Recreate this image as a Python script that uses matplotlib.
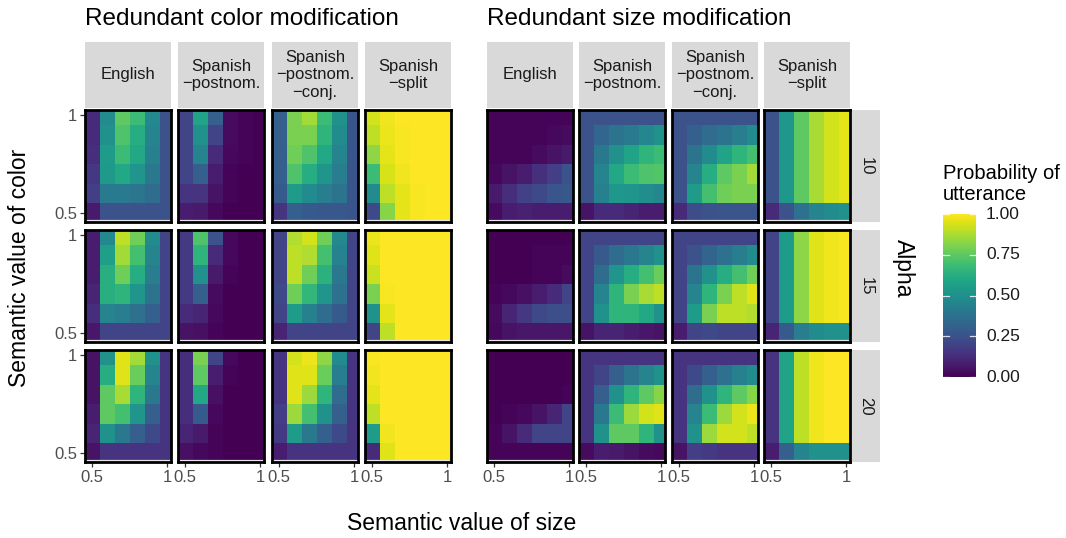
import numpy as np
import matplotlib
matplotlib.use('Agg')
import matplotlib.pyplot as plt

plt.rcParams['font.family'] = ['Liberation Sans', 'DejaVu Sans']

# semantic values on both axes
sem_values = [0.5, 0.6, 0.7, 0.8, 0.9, 1.0]
languages = ['English', 'Spanish\n\u2212postnom.', 'Spanish\n\u2212postnom.\n\u2212conj.', 'Spanish\n\u2212split']
alphas = ['10', '15', '20']

# rows: color value 1.0 (top) down to 0.5 (bottom); columns: size value 0.5 -> 1.0
# ---- redundant color modification ----
color_en_10 = [[0.12, 0.48, 0.75, 0.68, 0.47, 0.25],
               [0.12, 0.50, 0.72, 0.62, 0.45, 0.25],
               [0.13, 0.55, 0.68, 0.60, 0.43, 0.25],
               [0.16, 0.54, 0.60, 0.52, 0.40, 0.25],
               [0.18, 0.41, 0.41, 0.39, 0.35, 0.25],
               [0.07, 0.25, 0.25, 0.25, 0.25, 0.25]]
color_post_10 = [[0.20, 0.58, 0.30, 0.03, 0.01, 0.00],
                 [0.20, 0.50, 0.20, 0.03, 0.01, 0.00],
                 [0.20, 0.45, 0.12, 0.02, 0.01, 0.00],
                 [0.20, 0.30, 0.08, 0.01, 0.00, 0.00],
                 [0.15, 0.15, 0.05, 0.01, 0.00, 0.00],
                 [0.08, 0.07, 0.02, 0.00, 0.00, 0.00]]
color_conj_10 = [[0.30, 0.80, 0.86, 0.68, 0.50, 0.26],
                 [0.30, 0.80, 0.80, 0.65, 0.48, 0.26],
                 [0.30, 0.78, 0.72, 0.60, 0.45, 0.26],
                 [0.30, 0.72, 0.62, 0.52, 0.42, 0.26],
                 [0.28, 0.55, 0.48, 0.42, 0.38, 0.26],
                 [0.15, 0.30, 0.28, 0.27, 0.27, 0.26]]
color_split_10 = [[0.93, 0.98, 1.00, 1.00, 1.00, 1.00],
                  [0.90, 0.97, 0.99, 1.00, 1.00, 1.00],
                  [0.83, 0.96, 0.99, 1.00, 1.00, 1.00],
                  [0.68, 0.94, 0.98, 1.00, 1.00, 1.00],
                  [0.48, 0.90, 0.96, 0.99, 1.00, 1.00],
                  [0.22, 0.82, 0.96, 0.99, 1.00, 1.00]]
color_en_15 = [[0.08, 0.47, 0.90, 0.78, 0.48, 0.20],
               [0.08, 0.56, 0.86, 0.70, 0.45, 0.20],
               [0.08, 0.63, 0.78, 0.62, 0.42, 0.20],
               [0.10, 0.63, 0.65, 0.52, 0.38, 0.20],
               [0.13, 0.45, 0.42, 0.37, 0.30, 0.20],
               [0.06, 0.20, 0.20, 0.20, 0.20, 0.20]]
color_post_15 = [[0.17, 0.72, 0.25, 0.02, 0.00, 0.00],
                 [0.17, 0.65, 0.12, 0.02, 0.00, 0.00],
                 [0.17, 0.50, 0.07, 0.01, 0.00, 0.00],
                 [0.17, 0.30, 0.03, 0.00, 0.00, 0.00],
                 [0.12, 0.10, 0.02, 0.00, 0.00, 0.00],
                 [0.05, 0.04, 0.01, 0.00, 0.00, 0.00]]
color_conj_15 = [[0.20, 0.88, 0.93, 0.78, 0.47, 0.20],
                 [0.20, 0.90, 0.88, 0.70, 0.44, 0.20],
                 [0.20, 0.90, 0.78, 0.64, 0.40, 0.20],
                 [0.22, 0.78, 0.66, 0.52, 0.37, 0.20],
                 [0.20, 0.55, 0.43, 0.35, 0.28, 0.20],
                 [0.10, 0.20, 0.20, 0.20, 0.20, 0.20]]
color_split_15 = [[0.97, 1.00, 1.00, 1.00, 1.00, 1.00],
                  [0.95, 1.00, 1.00, 1.00, 1.00, 1.00],
                  [0.92, 1.00, 1.00, 1.00, 1.00, 1.00],
                  [0.80, 0.99, 1.00, 1.00, 1.00, 1.00],
                  [0.50, 0.96, 1.00, 1.00, 1.00, 1.00],
                  [0.20, 0.90, 1.00, 1.00, 1.00, 1.00]]
color_en_20 = [[0.05, 0.50, 0.95, 0.86, 0.50, 0.15],
               [0.05, 0.62, 0.95, 0.77, 0.45, 0.15],
               [0.05, 0.75, 0.87, 0.65, 0.40, 0.15],
               [0.08, 0.75, 0.70, 0.52, 0.30, 0.15],
               [0.10, 0.50, 0.40, 0.30, 0.22, 0.15],
               [0.05, 0.15, 0.15, 0.15, 0.15, 0.15]]
color_post_20 = [[0.13, 0.80, 0.20, 0.02, 0.00, 0.00],
                 [0.13, 0.75, 0.08, 0.01, 0.00, 0.00],
                 [0.13, 0.60, 0.04, 0.00, 0.00, 0.00],
                 [0.13, 0.28, 0.02, 0.00, 0.00, 0.00],
                 [0.10, 0.07, 0.01, 0.00, 0.00, 0.00],
                 [0.04, 0.02, 0.01, 0.00, 0.00, 0.00]]
color_conj_20 = [[0.15, 0.93, 0.97, 0.83, 0.48, 0.15],
                 [0.15, 0.95, 0.95, 0.77, 0.42, 0.15],
                 [0.15, 0.95, 0.85, 0.65, 0.35, 0.15],
                 [0.18, 0.85, 0.70, 0.50, 0.30, 0.15],
                 [0.17, 0.55, 0.40, 0.30, 0.22, 0.15],
                 [0.08, 0.15, 0.15, 0.15, 0.15, 0.15]]
color_split_20 = [[0.99, 1.00, 1.00, 1.00, 1.00, 1.00],
                  [0.98, 1.00, 1.00, 1.00, 1.00, 1.00],
                  [0.96, 1.00, 1.00, 1.00, 1.00, 1.00],
                  [0.90, 1.00, 1.00, 1.00, 1.00, 1.00],
                  [0.55, 0.98, 1.00, 1.00, 1.00, 1.00],
                  [0.12, 0.95, 1.00, 1.00, 1.00, 1.00]]

# ---- redundant size modification ----
size_en_10 = [[0.01, 0.01, 0.01, 0.01, 0.01, 0.01],
              [0.01, 0.01, 0.01, 0.01, 0.02, 0.03],
              [0.01, 0.01, 0.01, 0.03, 0.05, 0.07],
              [0.02, 0.05, 0.08, 0.14, 0.18, 0.25],
              [0.07, 0.13, 0.19, 0.22, 0.26, 0.27],
              [0.03, 0.08, 0.09, 0.08, 0.08, 0.08]]
size_post_10 = [[0.25, 0.25, 0.25, 0.25, 0.25, 0.25],
                [0.25, 0.33, 0.38, 0.41, 0.46, 0.51],
                [0.25, 0.40, 0.50, 0.58, 0.65, 0.68],
                [0.25, 0.45, 0.60, 0.68, 0.72, 0.73],
                [0.25, 0.43, 0.53, 0.52, 0.49, 0.46],
                [0.05, 0.12, 0.12, 0.10, 0.08, 0.08]]
size_conj_10 = [[0.25, 0.25, 0.25, 0.25, 0.25, 0.25],
                [0.25, 0.30, 0.35, 0.38, 0.42, 0.48],
                [0.25, 0.38, 0.48, 0.58, 0.65, 0.70],
                [0.25, 0.45, 0.62, 0.75, 0.80, 0.86],
                [0.25, 0.55, 0.70, 0.78, 0.80, 0.80],
                [0.12, 0.23, 0.25, 0.26, 0.26, 0.26]]
size_split_10 = [[0.25, 0.53, 0.75, 0.87, 0.93, 0.96],
                 [0.25, 0.53, 0.75, 0.87, 0.93, 0.96],
                 [0.25, 0.53, 0.75, 0.87, 0.93, 0.96],
                 [0.25, 0.53, 0.75, 0.87, 0.93, 0.96],
                 [0.25, 0.53, 0.75, 0.87, 0.93, 0.96],
                 [0.12, 0.25, 0.37, 0.45, 0.48, 0.50]]
size_en_15 = [[0.00, 0.00, 0.00, 0.00, 0.00, 0.00],
              [0.00, 0.00, 0.00, 0.01, 0.01, 0.01],
              [0.00, 0.00, 0.00, 0.01, 0.01, 0.03],
              [0.01, 0.02, 0.04, 0.08, 0.12, 0.20],
              [0.03, 0.10, 0.16, 0.22, 0.24, 0.24],
              [0.02, 0.05, 0.06, 0.06, 0.06, 0.06]]
size_post_15 = [[0.20, 0.20, 0.20, 0.20, 0.20, 0.20],
                [0.20, 0.28, 0.35, 0.40, 0.45, 0.50],
                [0.20, 0.35, 0.52, 0.62, 0.70, 0.77],
                [0.20, 0.45, 0.65, 0.80, 0.87, 0.90],
                [0.20, 0.50, 0.65, 0.65, 0.60, 0.50],
                [0.05, 0.10, 0.10, 0.08, 0.06, 0.05]]
size_conj_15 = [[0.20, 0.20, 0.20, 0.20, 0.20, 0.20],
                [0.20, 0.25, 0.32, 0.37, 0.42, 0.48],
                [0.20, 0.38, 0.50, 0.62, 0.70, 0.78],
                [0.20, 0.45, 0.65, 0.80, 0.90, 0.95],
                [0.20, 0.55, 0.80, 0.90, 0.90, 0.88],
                [0.08, 0.20, 0.22, 0.20, 0.20, 0.20]]
size_split_15 = [[0.20, 0.55, 0.83, 0.95, 0.98, 0.99],
                 [0.20, 0.55, 0.83, 0.95, 0.98, 0.99],
                 [0.20, 0.55, 0.83, 0.95, 0.98, 0.99],
                 [0.20, 0.55, 0.83, 0.95, 0.98, 0.99],
                 [0.20, 0.55, 0.83, 0.95, 0.98, 0.99],
                 [0.10, 0.28, 0.42, 0.48, 0.50, 0.50]]
size_en_20 = [[0.00, 0.00, 0.00, 0.00, 0.00, 0.00],
              [0.00, 0.00, 0.00, 0.00, 0.00, 0.00],
              [0.00, 0.00, 0.00, 0.00, 0.00, 0.01],
              [0.00, 0.01, 0.02, 0.05, 0.10, 0.20],
              [0.01, 0.05, 0.12, 0.20, 0.20, 0.20],
              [0.01, 0.01, 0.01, 0.01, 0.01, 0.01]]
size_post_20 = [[0.15, 0.15, 0.15, 0.15, 0.15, 0.15],
                [0.15, 0.20, 0.30, 0.38, 0.45, 0.50],
                [0.15, 0.30, 0.50, 0.65, 0.75, 0.82],
                [0.15, 0.40, 0.68, 0.85, 0.93, 0.95],
                [0.15, 0.50, 0.75, 0.75, 0.65, 0.50],
                [0.03, 0.08, 0.07, 0.05, 0.03, 0.02]]
size_conj_20 = [[0.15, 0.15, 0.15, 0.15, 0.15, 0.15],
                [0.15, 0.22, 0.30, 0.37, 0.43, 0.48],
                [0.15, 0.35, 0.50, 0.65, 0.75, 0.82],
                [0.15, 0.45, 0.68, 0.85, 0.93, 0.97],
                [0.15, 0.50, 0.85, 0.93, 0.93, 0.90],
                [0.05, 0.18, 0.17, 0.15, 0.15, 0.15]]
size_split_20 = [[0.15, 0.58, 0.90, 0.98, 1.00, 1.00],
                 [0.15, 0.58, 0.90, 0.98, 1.00, 1.00],
                 [0.15, 0.58, 0.90, 0.98, 1.00, 1.00],
                 [0.15, 0.58, 0.90, 0.98, 1.00, 1.00],
                 [0.15, 0.58, 0.90, 0.98, 1.00, 1.00],
                 [0.08, 0.30, 0.45, 0.50, 0.50, 0.50]]

color_panels = [[color_en_10, color_post_10, color_conj_10, color_split_10],
                [color_en_15, color_post_15, color_conj_15, color_split_15],
                [color_en_20, color_post_20, color_conj_20, color_split_20]]
size_panels = [[size_en_10, size_post_10, size_conj_10, size_split_10],
               [size_en_15, size_post_15, size_conj_15, size_split_15],
               [size_en_20, size_post_20, size_conj_20, size_split_20]]

W, H = 1066, 538
fig = plt.figure(figsize=(W / 100, H / 100), dpi=100)


def px_axes(x, y, w, h):
    # pixel box (top-left origin) -> figure axes
    return fig.add_axes([x / W, 1 - (y + h) / H, w / W, h / H])


edges = np.array(sem_values + [1.1]) - 0.05
cmap = plt.get_cmap('viridis')
strip_grey = '#d9d9d9'
tick_grey = '#4d4d4d'

col_lefts = [[85, 178, 272, 365], [487, 579, 672, 764]]
row_tops = [110, 230, 350]
pw, ph = 86, 112

for g, panels in enumerate([color_panels, size_panels]):
    for r in range(3):
        for c in range(4):
            ax = px_axes(col_lefts[g][c], row_tops[r], pw, ph)
            z = np.array(panels[r][c])[::-1]
            ax.pcolormesh(edges, edges, z, cmap=cmap, vmin=0, vmax=1)
            ax.axhline(0.459, color='#e6e6e6', lw=1.6, zorder=3)
            ax.set_xlim(0.453, 1.026)
            ax.set_ylim(0.455, 1.026)
            for s in ax.spines.values():
                s.set_linewidth(2.0)
                s.set_color('black')
                s.set_zorder(5)
            ax.set_xticks([0.5, 1])
            ax.set_xticklabels(['0.5', '1'])
            ax.set_yticks([0.5, 1])
            ax.set_yticklabels(['0.5', '1'])
            ax.tick_params(length=3.5, width=0.9, color='#333333', labelcolor=tick_grey,
                           labelsize=12, pad=2)
            if r != 2:
                ax.tick_params(axis='x', length=0, labelbottom=False)
            if not (g == 0 and c == 0):
                ax.tick_params(axis='y', length=0, labelleft=False)

    # language strips on top
    for c in range(4):
        sax = px_axes(col_lefts[g][c], 42, pw, 66)
        sax.set_facecolor(strip_grey)
        sax.set_xticks([])
        sax.set_yticks([])
        for s in sax.spines.values():
            s.set_visible(False)
        sax.text(0.5, 0.5, languages[c], ha='center', va='center', fontsize=12,
                 color='#1a1a1a', linespacing=1.2, transform=sax.transAxes)

# alpha strips on the right
for r in range(3):
    sax = px_axes(852, row_tops[r], 28, ph)
    sax.set_facecolor(strip_grey)
    sax.set_xticks([])
    sax.set_yticks([])
    for s in sax.spines.values():
        s.set_visible(False)
    sax.text(0.5, 0.5, alphas[r], ha='center', va='center', rotation=-90, fontsize=12,
             color='#1a1a1a', transform=sax.transAxes)

fig.text(85 / W, 1 - 19 / H, 'Redundant color modification', ha='left', va='center', fontsize=17.5)
fig.text(487 / W, 1 - 19 / H, 'Redundant size modification', ha='left', va='center', fontsize=17.5)
fig.text(20 / W, 1 - 268 / H, 'Semantic value of color', ha='center', va='center', rotation=90,
         fontsize=16.5)
fig.text(462 / W, 1 - 523 / H, 'Semantic value of size', ha='center', va='center', fontsize=16.5)
fig.text(903 / W, 1 - 268 / H, 'Alpha', ha='center', va='center', rotation=-90, fontsize=16.5)

# colour bar
cax = px_axes(943, 214, 33, 163)
grad = np.linspace(0, 1, 256).reshape(-1, 1)
cax.imshow(grad, cmap=cmap, aspect='auto', origin='lower', extent=[0, 1, 0, 1])
cax.set_xlim(0, 1)
cax.set_ylim(0, 1)
for s in cax.spines.values():
    s.set_visible(False)
cax.set_xticks([])
cax.set_yticks([])
for v in [0.0, 0.25, 0.5, 0.75, 1.0]:
    cax.plot([0, 0.18], [v, v], color='white', lw=0.9, alpha=0.8)
    cax.plot([0.82, 1], [v, v], color='white', lw=0.9, alpha=0.8)
    cax.text(1.3, v, f'{v:.2f}', ha='left', va='center', fontsize=12.5, color='#1a1a1a',
             transform=cax.transAxes, clip_on=False)
fig.text(943 / W, 1 - 184 / H, 'Probability of\nutterance', ha='left', va='center', fontsize=14.5,
         linespacing=1.1)

fig.savefig('out.png', dpi=100)
